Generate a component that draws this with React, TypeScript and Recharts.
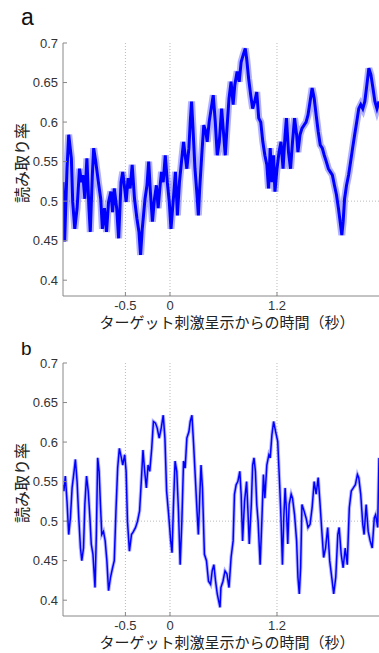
import { LineChart, Line, XAxis, YAxis, ReferenceLine } from 'recharts';

// panel a: time (s) and reading rate
const timeA = [
  -1.2, -1.182, -1.155, -1.136, -1.106, -1.091, -1.068, -1.042, -1.015, -0.992,
  -0.977, -0.955, -0.932, -0.909, -0.894, -0.871, -0.856, -0.833, -0.803, -0.777,
  -0.758, -0.735, -0.712, -0.689, -0.663, -0.644, -0.625, -0.598, -0.576, -0.549,
  -0.53, -0.508, -0.492, -0.47, -0.447, -0.424, -0.398, -0.371, -0.348, -0.33,
  -0.311, -0.28, -0.258, -0.239, -0.22, -0.197, -0.174, -0.152, -0.133, -0.114,
  -0.095, -0.076, -0.053, -0.03, -0.008, 0.011, 0.038, 0.061, 0.083, 0.106,
  0.129, 0.152, 0.17, 0.189, 0.212, 0.227, 0.242, 0.258, 0.28, 0.303,
  0.318, 0.333, 0.356, 0.379, 0.402, 0.417, 0.439, 0.462, 0.485, 0.508,
  0.53, 0.553,
  0.579, 0.602, 0.62, 0.639, 0.662, 0.685, 0.708, 0.727, 0.753, 0.776,
  0.798, 0.821, 0.844, 0.859, 0.882, 0.905, 0.927, 0.95, 0.973, 0.995,
  1.018, 1.041, 1.064, 1.086, 1.105, 1.124, 1.143, 1.162, 1.177, 1.2,
  1.223, 1.245, 1.268, 1.291, 1.306, 1.329, 1.352, 1.374, 1.397, 1.42,
  1.435, 1.458, 1.48, 1.503, 1.526, 1.548, 1.571, 1.594, 1.617, 1.639,
  1.662, 1.685, 1.708, 1.73, 1.753, 1.776, 1.798, 1.821, 1.844, 1.867,
  1.889, 1.908, 1.927, 1.942, 1.958, 1.98, 2.003, 2.026, 2.048, 2.071,
  2.094, 2.117, 2.139, 2.162, 2.185, 2.208, 2.23, 2.253, 2.276, 2.298,
  2.321, 2.344,
];
const rateA = [
  0.524, 0.449, 0.541, 0.584, 0.554, 0.499, 0.465, 0.491, 0.541, 0.524,
  0.533, 0.503, 0.554, 0.491, 0.461, 0.533, 0.567, 0.55, 0.524, 0.503,
  0.465, 0.491, 0.461, 0.499, 0.512, 0.486, 0.516, 0.491, 0.453, 0.524,
  0.537, 0.516, 0.499, 0.529, 0.516, 0.546, 0.503, 0.478, 0.461, 0.432,
  0.465, 0.503, 0.52, 0.55, 0.512, 0.474, 0.503, 0.52, 0.491, 0.516,
  0.537, 0.524, 0.558, 0.524, 0.499, 0.465, 0.503, 0.537, 0.482, 0.524,
  0.55, 0.575, 0.558, 0.541, 0.567, 0.6, 0.626, 0.592, 0.541, 0.508,
  0.482, 0.516, 0.558, 0.596, 0.588, 0.575, 0.6, 0.617, 0.634, 0.6,
  0.558, 0.575,
  0.617, 0.584, 0.558, 0.592, 0.63, 0.651, 0.622, 0.647, 0.664, 0.651,
  0.676, 0.685, 0.693, 0.681, 0.655, 0.634, 0.617, 0.626, 0.638, 0.605,
  0.6, 0.575, 0.558, 0.546, 0.516, 0.567, 0.524, 0.558, 0.512, 0.541,
  0.562, 0.575, 0.541, 0.584, 0.605, 0.562, 0.541, 0.575, 0.605, 0.584,
  0.562, 0.584, 0.592, 0.596, 0.6, 0.609, 0.626, 0.643, 0.63, 0.609,
  0.588, 0.571, 0.567, 0.558, 0.55, 0.541, 0.537, 0.533, 0.52, 0.508,
  0.491, 0.474, 0.457, 0.474, 0.503, 0.52, 0.533, 0.55, 0.567, 0.584,
  0.6, 0.617, 0.622, 0.617, 0.626, 0.647, 0.668, 0.66, 0.643, 0.626,
  0.617, 0.626,
];

// panel b
const timeB = [
  -1.2, -1.19, -1.174, -1.155, -1.136, -1.117, -1.098, -1.076, -1.061, -1.042,
  -1.023, -1.004, -0.989, -0.97, -0.955, -0.936, -0.917, -0.898, -0.883, -0.864,
  -0.841, -0.826, -0.811, -0.795, -0.78, -0.765, -0.746, -0.727, -0.708, -0.689,
  -0.667, -0.644, -0.625, -0.606, -0.587, -0.568, -0.545, -0.53, -0.508, -0.492,
  -0.477, -0.455, -0.432, -0.409, -0.386, -0.364, -0.341, -0.322, -0.303, -0.284,
  -0.265, -0.246, -0.227, -0.205, -0.186, -0.163, -0.144, -0.121, -0.098, -0.076,
  -0.057, -0.038, -0.015, 0.008, 0.023, 0.038, 0.057, 0.076, 0.095, 0.114,
  0.133, 0.152, 0.17, 0.189, 0.212, 0.227, 0.246, 0.265, 0.284, 0.303,
  0.318, 0.333, 0.348, 0.364, 0.386, 0.409, 0.432, 0.455, 0.473, 0.492,
  0.511, 0.53, 0.561,
  0.571, 0.594, 0.617, 0.639, 0.662, 0.685, 0.708, 0.723, 0.742, 0.761,
  0.783, 0.798, 0.814, 0.836, 0.859, 0.874, 0.889, 0.912, 0.927, 0.942,
  0.958, 0.973, 0.988, 1.011, 1.03, 1.048, 1.064, 1.086, 1.109, 1.124,
  1.143, 1.162, 1.185, 1.208, 1.23, 1.245, 1.261, 1.276, 1.291, 1.306,
  1.321, 1.336, 1.359, 1.374, 1.397, 1.42, 1.435, 1.45, 1.465, 1.48,
  1.503, 1.526, 1.548, 1.571, 1.594, 1.617, 1.639, 1.662, 1.681, 1.7,
  1.723, 1.745, 1.768, 1.791, 1.814, 1.836, 1.859, 1.882, 1.897, 1.92,
  1.942, 1.965, 1.988, 2.011, 2.033, 2.056, 2.079, 2.102, 2.117, 2.139,
  2.162, 2.177, 2.2, 2.223, 2.245, 2.268, 2.291, 2.306, 2.329, 2.344,
];
const rateB = [
  0.546, 0.538, 0.557, 0.525, 0.483, 0.504, 0.542, 0.563, 0.578, 0.55,
  0.504, 0.466, 0.45, 0.466, 0.521, 0.557, 0.538, 0.504, 0.471, 0.458,
  0.416, 0.483, 0.58, 0.563, 0.521, 0.483, 0.487, 0.475, 0.45, 0.412,
  0.429, 0.441, 0.45, 0.513, 0.567, 0.592, 0.58, 0.571, 0.584, 0.563,
  0.5, 0.462, 0.483, 0.487, 0.492, 0.5, 0.513, 0.55, 0.59, 0.563,
  0.542, 0.571, 0.563, 0.592, 0.626, 0.624, 0.618, 0.605, 0.618, 0.634,
  0.605, 0.538, 0.508, 0.475, 0.46, 0.517, 0.576, 0.563, 0.513, 0.445,
  0.5, 0.576, 0.567, 0.605, 0.613, 0.626, 0.634, 0.597, 0.555, 0.513,
  0.483, 0.529, 0.571, 0.542, 0.458, 0.45, 0.424, 0.42, 0.437, 0.445,
  0.424, 0.408, 0.391,
  0.416, 0.424, 0.437, 0.433, 0.416, 0.454, 0.475, 0.534, 0.546, 0.55,
  0.563, 0.534, 0.475, 0.525, 0.55, 0.513, 0.471, 0.521, 0.571, 0.58,
  0.563, 0.521, 0.5, 0.445, 0.5, 0.559, 0.529, 0.571, 0.584, 0.58,
  0.609, 0.626, 0.613, 0.601, 0.546, 0.504, 0.445, 0.504, 0.542, 0.513,
  0.471, 0.521, 0.534, 0.529, 0.508, 0.475, 0.429, 0.408, 0.441, 0.521,
  0.513, 0.504, 0.492, 0.496, 0.517, 0.55, 0.534, 0.555, 0.525, 0.492,
  0.454, 0.466, 0.492, 0.45, 0.429, 0.408, 0.429, 0.483, 0.492, 0.458,
  0.441, 0.466, 0.445, 0.517, 0.538, 0.542, 0.546, 0.559, 0.555, 0.534,
  0.496, 0.483, 0.521, 0.487, 0.475, 0.466, 0.504, 0.508, 0.492, 0.58,
];

const yTicks = [0.4, 0.45, 0.5, 0.55, 0.6, 0.65, 0.7];
const xTicks = [-0.5, 0, 1.2];
const xMarks = [-0.5, 0, 1.2];
const yMark = 0.5;

const dataA = timeA.map((t, i) => ({ t, rate: rateA[i] }));
const dataB = timeB.map((t, i) => ({ t, rate: rateB[i] }));

const tickFont = '"Liberation Sans", Arial, sans-serif';
const jpFont = '"Noto Sans CJK JP", "Noto Sans", sans-serif';

const YTick = (props: any) => {
  const { x, y, payload } = props;
  return (
    <g>
      <line x1={x + 5} x2={x + 9} y1={y} y2={y} stroke="#888" />
      <text x={x} y={y} dy={4.5} textAnchor="end" fontSize={13} fontFamily={tickFont} fill="#333">
        {payload.value}
      </text>
    </g>
  );
};

const XTick = (props: any) => {
  const { x, y, payload } = props;
  return (
    <g>
      <line x1={x} x2={x} y1={y - 4} y2={y - 8} stroke="#888" />
      <text x={x} y={y} dy={9.5} textAnchor="middle" fontSize={13} fontFamily={tickFont} fill="#333">
        {payload.value}
      </text>
    </g>
  );
};

const Panel = ({ letter, letterY, letterSize, data, top, band, core }: any) => (
  <div style={{ position: 'absolute', left: 0, top, width: 379, height: 333 }}>
    <LineChart width={379} height={330} data={data} margin={{ top: 43, right: 0, bottom: 0, left: 0 }}>
      <XAxis
        dataKey="t"
        type="number"
        domain={[-1.2, 2.344]}
        ticks={xTicks}
        height={34}
        tickSize={0}
        tickMargin={4}
        tick={(p: any) => <XTick {...p} />}
        axisLine={{ stroke: '#888' }}
        allowDataOverflow
      />
      <YAxis
        type="number"
        domain={[0.38, 0.7]}
        ticks={yTicks}
        width={63}
        tickSize={0}
        tickMargin={5}
        tick={(p: any) => <YTick {...p} />}
        axisLine={{ stroke: '#888' }}
        allowDataOverflow
      />
      {xMarks.map((v) => (
        <ReferenceLine key={v} x={v} stroke="#bbb" strokeDasharray="1 2" />
      ))}
      <ReferenceLine y={yMark} stroke="#bbb" strokeDasharray="1 2" />
      <Line type="linear" dataKey="rate" stroke="#0000ff" strokeOpacity={0.3} strokeWidth={band} dot={false} isAnimationActive={false} />
      <Line type="linear" dataKey="rate" stroke="#0000ff" strokeWidth={core} dot={false} isAnimationActive={false} />
    </LineChart>
    <svg width={379} height={333} style={{ position: 'absolute', left: 0, top: 0, pointerEvents: 'none' }}>
      <text x={21} y={letterY} fontSize={letterSize} fontFamily={tickFont} fill="#111">
        {letter}
      </text>
      <text
        x={21}
        y={163}
        fontSize={16}
        fontFamily={jpFont}
        fill="#222"
        textAnchor="middle"
        dominantBaseline="central"
        transform="rotate(-90, 21, 163)"
      >
        読み取り率
      </text>
      <text x={227} y={328} fontSize={15} fontFamily={jpFont} fill="#222" textAnchor="middle">
        ターゲット刺激呈示からの時間（秒）
      </text>
    </svg>
  </div>
);

const App = () => {
  return (
    <div style={{ position: 'absolute', left: 0, top: 0, width: 379, height: 653, background: '#fff', overflow: 'hidden' }}>
      <Panel letter="a" letterY={25} letterSize={23} data={dataA} top={0} band={7} core={3} />
      <Panel letter="b" letterY={355 - 320} letterSize={19} data={dataB} top={320} band={3.5} core={1.5} />
    </div>
  );
};

export default App;
